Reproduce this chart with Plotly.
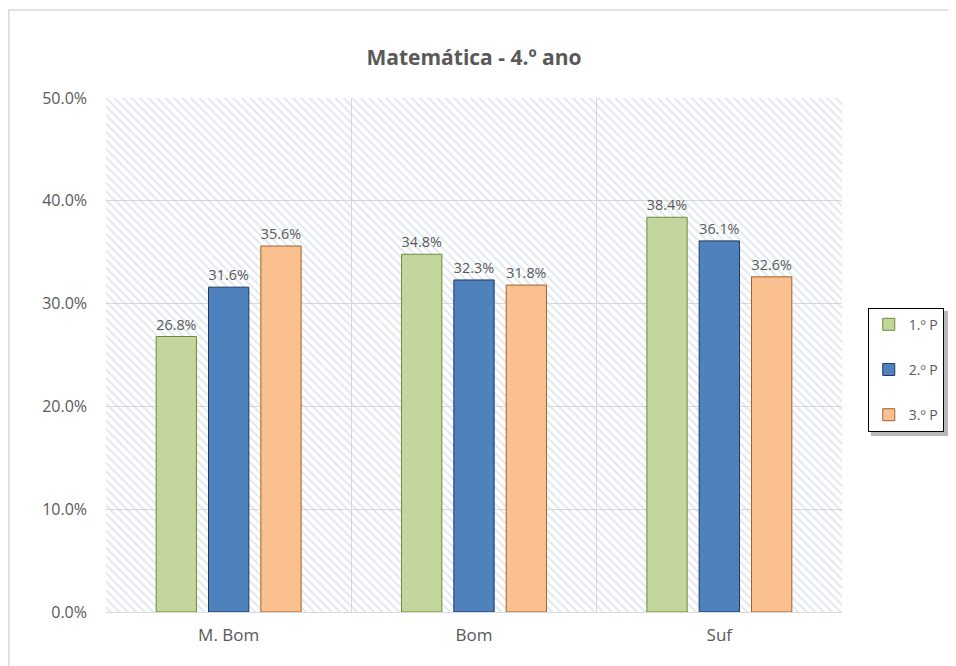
import plotly.graph_objects as go

categories = ["M. Bom", "Bom", "Suf"]
series_names = ["1.º P", "2.º P", "3.º P"]
p1 = [0.268, 0.348, 0.384]
p2 = [0.316, 0.323, 0.361]
p3 = [0.356, 0.318, 0.326]
y_ticks = [0, 0.1, 0.2, 0.3, 0.4, 0.5]
title_text = "Matemática - 4.º ano"

fills = ["#c3d69b", "#4f81bd", "#fac090"]
borders = ["#6f8a3a", "#1f3864", "#a0622d"]
font_family = "'Open Sans', sans-serif"
text_grey = "#595959"

fig = go.Figure()

# hatched plot background
fig.add_trace(go.Bar(
    x=[0.5], y=[max(y_ticks)], width=[1], xaxis="x", yaxis="y",
    marker=dict(color="rgba(255,255,255,0)", line=dict(width=0),
                pattern=dict(shape="\\", size=6, solidity=0.35,
                             fgcolor="#c4d2de", bgcolor="rgba(0,0,0,0)")),
    showlegend=False, hoverinfo="skip",
))

for i, (name, vals) in enumerate(zip(series_names, [p1, p2, p3])):
    fig.add_trace(go.Bar(
        x=categories, y=vals, name=name, xaxis="x2", yaxis="y",
        marker=dict(color=fills[i], line=dict(color=borders[i], width=1)),
        texttemplate="%{y:.1%}", textposition="outside",
        textfont=dict(color=text_grey, size=14.5, family=font_family),
        cliponaxis=False, legendgroup=name,
    ))

fig.update_layout(
    width=948, height=658,
    margin=dict(l=98, r=114, t=90, b=54),
    paper_bgcolor="white", plot_bgcolor="white",
    barmode="group", bargap=0.36, bargroupgap=0.23,
    font=dict(family=font_family, color=text_grey),
    title=dict(text="<b>" + title_text + "</b>", x=0.5, xref="paper",
               y=1 - 50 / 658, yref="container", xanchor="center", yanchor="middle",
               font=dict(size=21, color=text_grey, family=font_family)),
    xaxis=dict(range=[0, 1], visible=False, fixedrange=True),
    xaxis2=dict(overlaying="x", side="bottom", type="category",
                tickson="boundaries", showgrid=True, gridcolor="#d9d9d9",
                ticks="", showline=True, linecolor="#d9d9d9",
                tickfont=dict(size=17, color=text_grey, family=font_family),
                ticklabelstandoff=8),
    yaxis=dict(range=[0, 0.5], tickvals=y_ticks, tickformat=".1%",
               showgrid=True, gridcolor="#d9d9d9", zeroline=False,
               ticks="", tickfont=dict(size=16, color=text_grey, family=font_family),
               ticklabelstandoff=18),
    legend=dict(x=1.035, y=0.592, xanchor="left", yanchor="top",
                bordercolor="#000000", borderwidth=1, bgcolor="white",
                font=dict(size=14, color=text_grey, family=font_family),
                tracegroupgap=24, itemwidth=30),
    shapes=[
        dict(type="rect", xref="paper", yref="paper",
             x0=-0.132, x1=1.3, y0=-0.2, y1=1.171,
             line=dict(color="#d9d9d9", width=1.5), fillcolor="rgba(0,0,0,0)",
             layer="below"),
        dict(type="rect", xref="paper", yref="paper",
             x0=1.0394, x1=1.1535, y0=0.3424, y1=0.5856,
             line=dict(width=0), fillcolor="rgba(0,0,0,0.28)",
             layer="above"),
    ],
)

fig.write_html("out.html")
